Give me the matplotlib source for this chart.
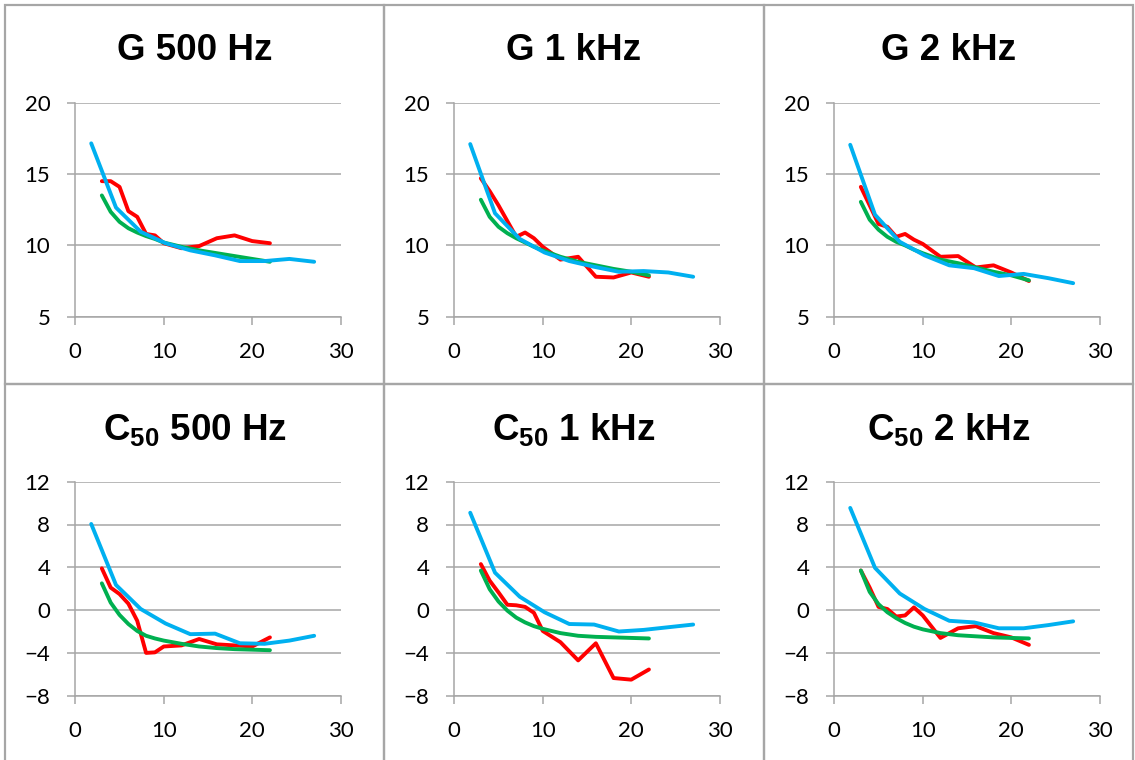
import matplotlib
matplotlib.use('Agg')
import matplotlib.pyplot as plt
from matplotlib.patches import Rectangle

plt.rcParams['mathtext.fontset'] = 'custom'
plt.rcParams['mathtext.bf'] = 'Liberation Sans:bold'
plt.rcParams['mathtext.rm'] = 'Liberation Sans'

# distances: red/green series share one set, blue has its own
dist_rg = [3, 4, 5, 6, 7, 8, 9, 10, 12, 14, 16, 18, 20, 22]
dist_b = [1.8, 4.6, 7.4, 10.2, 13, 15.8, 18.6, 21.4, 24.2, 27]

titles = ['G 500 Hz', 'G 1 kHz', 'G 2 kHz',
          r'$\mathbf{C_{50}}$ 500 Hz', r'$\mathbf{C_{50}}$ 1 kHz', r'$\mathbf{C_{50}}$ 2 kHz']

red_g500 = [14.5, 14.5, 14.1, 12.4, 12.0, 10.8, 10.7, 10.15, 9.8, 9.95, 10.5, 10.7, 10.3, 10.15]
red_g1k = [14.7, 13.8, 12.8, 11.7, 10.6, 10.9, 10.5, 9.9, 9.0, 9.2, 7.8, 7.75, 8.1, 7.8]
red_g2k = [14.1, 12.8, 11.5, 11.3, 10.6, 10.8, 10.4, 10.1, 9.2, 9.25, 8.45, 8.6, 8.1, 7.5]
red_c500 = [3.9, 2.1, 1.5, 0.6, -1.0, -4.0, -3.95, -3.4, -3.3, -2.7, -3.2, -3.3, -3.4, -2.55]
red_c1k = [4.3, 2.75, 1.65, 0.5, 0.45, 0.3, -0.25, -1.95, -3.0, -4.7, -3.1, -6.35, -6.5, -5.55]
red_c2k = [3.7, 2.1, 0.3, 0.1, -0.6, -0.5, 0.25, -0.5, -2.6, -1.7, -1.5, -2.15, -2.55, -3.25]

blue_g500 = [17.15, 12.65, 10.95, 10.15, 9.65, 9.3, 8.9, 8.9, 9.05, 8.85]
blue_g1k = [17.1, 12.25, 10.45, 9.5, 8.9, 8.5, 8.15, 8.2, 8.1, 7.8]
blue_g2k = [17.05, 12.15, 10.25, 9.3, 8.6, 8.4, 7.85, 8.0, 7.7, 7.35]
blue_c500 = [8.05, 2.35, 0.1, -1.25, -2.25, -2.2, -3.1, -3.15, -2.85, -2.4]
blue_c1k = [9.1, 3.5, 1.25, -0.2, -1.3, -1.35, -2.0, -1.85, -1.6, -1.35]
blue_c2k = [9.55, 3.95, 1.55, 0.1, -1.0, -1.15, -1.7, -1.7, -1.4, -1.05]

green_g500 = [13.5, 12.35, 11.65, 11.2, 10.9, 10.65, 10.45, 10.2, 9.9, 9.65, 9.45, 9.25, 9.05, 8.85]
green_g1k = [13.2, 12.0, 11.3, 10.85, 10.5, 10.2, 9.9, 9.65, 9.2, 8.85, 8.6, 8.35, 8.15, 7.9]
green_g2k = [13.05, 11.8, 11.1, 10.6, 10.25, 10.0, 9.7, 9.45, 9.0, 8.75, 8.45, 8.15, 7.9, 7.55]
green_c500 = [2.5, 0.7, -0.45, -1.3, -1.95, -2.4, -2.65, -2.85, -3.15, -3.4, -3.55, -3.65, -3.7, -3.75]
green_c1k = [3.7, 1.95, 0.8, -0.05, -0.7, -1.15, -1.5, -1.75, -2.15, -2.4, -2.5, -2.55, -2.6, -2.65]
green_c2k = [3.7, 1.7, 0.55, -0.2, -0.75, -1.2, -1.55, -1.8, -2.15, -2.35, -2.45, -2.55, -2.6, -2.65]

reds = [red_g500, red_g1k, red_g2k, red_c500, red_c1k, red_c2k]
blues = [blue_g500, blue_g1k, blue_g2k, blue_c500, blue_c1k, blue_c2k]
greens = [green_g500, green_g1k, green_g2k, green_c500, green_c1k, green_c2k]

W, H = 1135, 760
fig = plt.figure(figsize=(W / 100, H / 100), dpi=100)

# panel frames in pixels (left, right) and (top, bottom)
col_edges = [5, 384, 764, 1133]
row_edges = [5, 384, 763]
grid_col = '#A6A6A6'

for i in range(6):
    r, c = divmod(i, 3)
    x0, x1 = col_edges[c], col_edges[c + 1]
    y0, y1 = row_edges[r], row_edges[r + 1]
    fig.add_artist(Rectangle((x0 / W, 1 - y1 / H), (x1 - x0) / W, (y1 - y0) / H,
                             transform=fig.transFigure, fill=False,
                             edgecolor=grid_col, lw=1.6))

    ax_left = (x0 - 5 + 75.3) / W
    ax_top = (y0 - 5 + 102.7) / H
    ax = fig.add_axes([ax_left, 1 - ax_top - 214 / H, 265.4 / W, 214 / H])

    ax.plot(dist_rg, reds[i], color='#FF0000', lw=2.8, solid_capstyle='round')
    ax.plot(dist_rg, greens[i], color='#00B050', lw=2.8, solid_capstyle='round')
    ax.plot(dist_b, blues[i], color='#00B0F0', lw=2.8, solid_capstyle='round')

    ax.set_xlim(0, 30)
    ax.set_xticks([0, 10, 20, 30])
    if r == 0:
        ax.set_ylim(5, 20)
        ax.set_yticks([5, 10, 15, 20])
    else:
        ax.set_ylim(-8, 12)
        ax.set_yticks([-8, -4, 0, 4, 8, 12])

    ax.grid(axis='y', color=grid_col, lw=1.1)
    ax.set_axisbelow(True)
    for s in ['top', 'right']:
        ax.spines[s].set_visible(False)
    for s in ['left', 'bottom']:
        ax.spines[s].set_color(grid_col)
        ax.spines[s].set_linewidth(1.1)
    ax.tick_params(axis='both', colors=grid_col, length=5.5, width=1.1,
                   labelcolor='black', labelsize=16)
    ax.tick_params(axis='x', pad=13)
    ax.tick_params(axis='y', pad=12.5)
    for lab in ax.get_xticklabels() + ax.get_yticklabels():
        lab.set_family('Lato')

    fig.text((x0 + x1) / 2 / W, 1 - (y0 + 46) / H, titles[i],
             ha='center', va='center', fontsize=26.5, fontweight='bold',
             family='Liberation Sans')

fig.savefig('out.png', dpi=100)
